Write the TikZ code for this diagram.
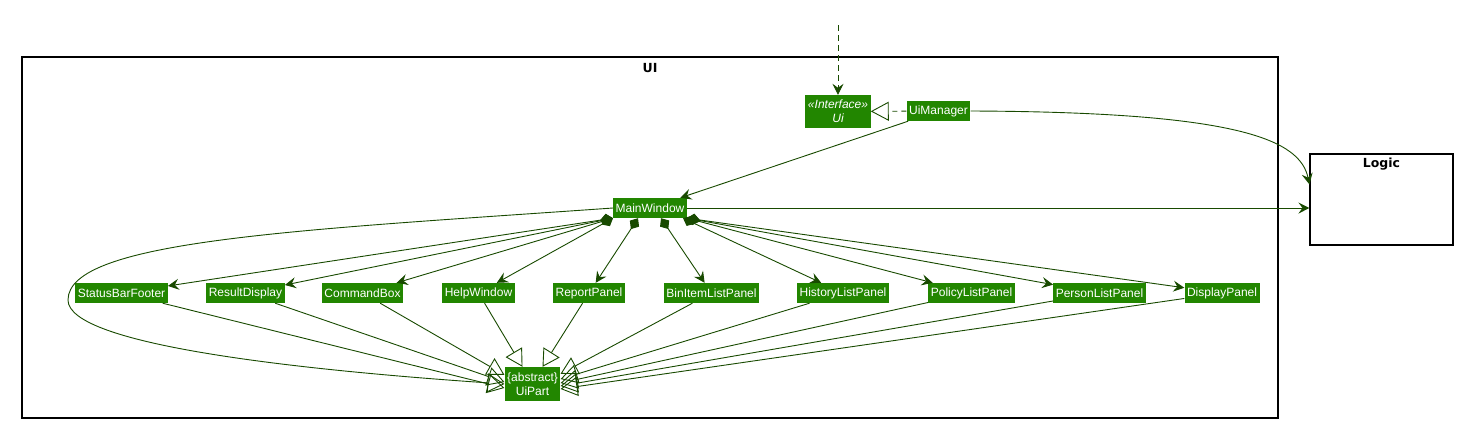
\documentclass[tikz,border=0pt]{standalone}
\usepackage{fontspec}
\setmainfont{Liberation Sans}
\newfontfamily\titlefont{DejaVu Sans}
\usetikzlibrary{arrows.meta}
\definecolor{umlgreen}{RGB}{34,134,0}
\definecolor{umlline}{RGB}{24,74,0}
\begin{document}
\begin{tikzpicture}[x=1pt,y=-1pt,
    cls/.style={fill=umlgreen,text=white,font=\fontsize{12}{14}\selectfont,inner xsep=2.5pt,inner ysep=1pt,minimum height=20pt,align=center},
    pkg/.style={draw=black,line width=1.1pt},
    title/.style={font=\titlefont\bfseries\fontsize{12.5}{14}\selectfont},
    conn/.style={draw=umlline,line width=0.9pt},
    assoc/.style={conn,-{Stealth[length=11pt,width=11pt,inset=4pt]}},
    comp/.style={conn,{Diamond[length=13pt,width=11pt]}-{Stealth[length=11pt,width=11pt,inset=4pt]}},
    inh/.style={conn,-{Triangle[open,length=17pt,width=19pt]}},
    real/.style={conn,dash pattern=on 5pt off 4pt,-{Triangle[open,length=18pt,width=19pt]}},
    dep/.style={conn,dash pattern=on 6pt off 4pt,-{Stealth[length=11pt,width=11pt,inset=4pt]}}]
    \useasboundingbox (0,0) rectangle (1463,429);
    % packages
    \draw[pkg] (22,57) rectangle (1278,418);
    \node[title] (uititle) at (650,68) {UI};
    \node[pkg,minimum width=143pt,minimum height=91pt] (logic) at (1381.5,199.5) {};
    \node[title,below=1pt] (logictitle) at (logic.north) {Logic};
    % classes
    \node[cls,minimum width=62pt,minimum height=33pt,font=\itshape\fontsize{12}{14}\selectfont] (ui) at (838,111.5) {«Interface»\\Ui};
    \node[cls] (uim) at (938.5,111) {UiManager};
    \node[cls] (mw) at (650,208) {MainWindow};
    \node[cls] (sbf) at (121.5,293) {StatusBarFooter};
    \node[cls] (rd) at (245.5,293) {ResultDisplay};
    \node[cls] (cb) at (362.5,293) {CommandBox};
    \node[cls] (hw) at (478.5,293) {HelpWindow};
    \node[cls] (rp) at (589,293) {ReportPanel};
    \node[cls] (bil) at (711.5,293) {BinItemListPanel};
    \node[cls] (hlp) at (843,293) {HistoryListPanel};
    \node[cls] (plp) at (971.5,293) {PolicyListPanel};
    \node[cls] (pslp) at (1099.5,293) {PersonListPanel};
    \node[cls] (dp) at (1222,293) {DisplayPanel};
    \node[cls,minimum width=55pt,minimum height=34pt] (uip) at (532.5,384) {\{abstract\}\\UiPart};
    % connectors
    \coordinate (ext) at (838,25);
    \draw[dep] (ext) -- (ui);
    \draw[real] (uim) -- (ui);
    \draw[assoc] (uim) -- (mw);
    \draw[assoc] (uim.east) .. controls (1240,112) and (1300,140) .. ([yshift=-31pt]logic.north west);
    \draw[assoc] (mw.east) -- (mw.east -| logic.west);
    \draw[comp] (mw.south west) -- (sbf);
    \draw[comp] (mw.south west) -- (rd);
    \draw[comp] (mw.south west) -- (cb);
    \draw[comp] (mw.south west) -- (hw);
    \draw[comp] ([xshift=-12pt]mw.south) -- (rp);
    \draw[comp] ([xshift=11pt]mw.south) -- (bil);
    \draw[comp] ([xshift=-4pt]mw.south east) -- (hlp);
    \draw[comp] (mw.south east) -- (plp);
    \draw[comp] (mw.south east) -- (pslp);
    \draw[comp] (mw.south east) -- (dp);
    \draw[inh] (mw.west) .. controls (300,230) and (68,240) .. (68,300)
        .. controls (68,345) and (300,370) .. (uip.west);
    \draw[inh] (sbf) -- (uip.188);
    \draw[inh] (rd) -- (uip.176);
    \draw[inh] (cb) -- (uip.162);
    \draw[inh] (hw) -- ([xshift=-10pt]uip.north);
    \draw[inh] (rp) -- ([xshift=10pt]uip.north);
    \draw[inh] (bil) -- (uip.20);
    \draw[inh] (hlp) -- (uip.10);
    \draw[inh] (plp) -- (uip.2);
    \draw[inh] (pslp) -- (uip.-4);
    \draw[inh] (dp) -- (uip.-10);
\end{tikzpicture}
\end{document}
